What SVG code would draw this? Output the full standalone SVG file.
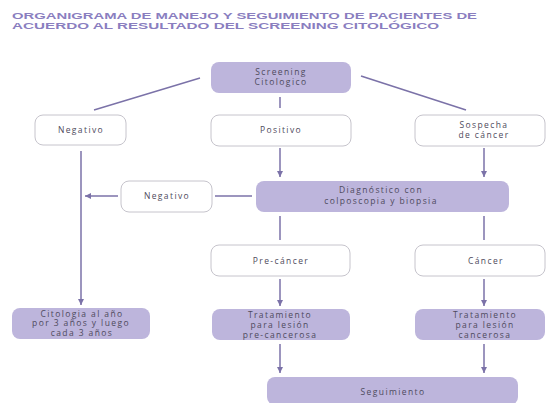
<svg xmlns="http://www.w3.org/2000/svg" width="546" height="403" viewBox="0 0 546 403">
<defs>
<style>
.title{font-family:"Liberation Sans",Arial,sans-serif;font-weight:bold;font-size:8.8px;fill:#8a7ebf}
.lbl{font-family:"Open Sans","Noto Sans",sans-serif;font-size:8.5px;letter-spacing:1.4px;fill:#4e4a5c;text-anchor:middle}
.fill{fill:#bdb5dc;stroke:none}
.open{fill:#ffffff;stroke:#c6c4cc;stroke-width:1}
.conn{stroke:#7b72a8;stroke-width:1.5;fill:none}
</style>
<marker id="ah" markerUnits="userSpaceOnUse" markerWidth="7" markerHeight="7" refX="6" refY="3.5" orient="auto">
<path d="M0,0.5 L6,3.5 L0,6.5 z" fill="#7b72a8"/>
</marker>
</defs>
<rect width="546" height="403" fill="#ffffff"/>
<g id="title">
<text class="title" x="12" y="19" textLength="465" lengthAdjust="spacingAndGlyphs">ORGANIGRAMA DE MANEJO Y SEGUIMIENTO DE PACIENTES DE</text>
<text class="title" x="12" y="28.5" textLength="427" lengthAdjust="spacingAndGlyphs">ACUERDO AL RESULTADO DEL SCREENING CITOLÓGICO</text>
</g>
<g id="connectors">
<line class="conn" x1="200" y1="78" x2="94" y2="110"/>
<line class="conn" x1="361" y1="76" x2="466" y2="110"/>
<line class="conn" x1="280" y1="97" x2="280" y2="108"/>
<line class="conn" x1="280" y1="148" x2="280" y2="177" marker-end="url(#ah)"/>
<line class="conn" x1="484" y1="148" x2="484" y2="177" marker-end="url(#ah)"/>
<line class="conn" x1="252" y1="196" x2="215" y2="196"/>
<line class="conn" x1="118" y1="196" x2="85" y2="196" marker-end="url(#ah)"/>
<line class="conn" x1="81" y1="151" x2="81" y2="305" marker-end="url(#ah)"/>
<line class="conn" x1="280" y1="216" x2="280" y2="240"/>
<line class="conn" x1="484" y1="216" x2="484" y2="240"/>
<line class="conn" x1="280" y1="279" x2="280" y2="306" marker-end="url(#ah)"/>
<line class="conn" x1="484" y1="279" x2="484" y2="306" marker-end="url(#ah)"/>
<line class="conn" x1="280" y1="344" x2="280" y2="373" marker-end="url(#ah)"/>
<line class="conn" x1="484" y1="344" x2="484" y2="373" marker-end="url(#ah)"/>
</g>
<g id="screening">
<rect class="fill" x="211" y="62" width="140" height="31" rx="8"/>
<text class="lbl" x="281" y="75">Screening</text>
<text class="lbl" x="281" y="85">Citologico</text>
</g>
<g id="negativo1">
<rect class="open" x="35" y="115" width="91" height="30" rx="8"/>
<text class="lbl" x="81" y="133">Negativo</text>
</g>
<g id="positivo">
<rect class="open" x="211" y="115" width="140" height="31" rx="8"/>
<text class="lbl" x="281" y="133">Positivo</text>
</g>
<g id="sospecha">
<rect class="open" x="415" y="115" width="130" height="31" rx="8"/>
<text class="lbl" x="484" y="128">Sospecha</text>
<text class="lbl" x="484" y="138">de cáncer</text>
</g>
<g id="negativo2">
<rect class="open" x="121" y="181" width="91" height="31" rx="8"/>
<text class="lbl" x="167" y="199">Negativo</text>
</g>
<g id="diagnostico">
<rect class="fill" x="256" y="181" width="253" height="31" rx="8"/>
<text class="lbl" x="381" y="193">Diagnóstico con</text>
<text class="lbl" x="381" y="204">colposcopia y biopsia</text>
</g>
<g id="precancer">
<rect class="open" x="211" y="245" width="139" height="31" rx="8"/>
<text class="lbl" x="281" y="264">Pre-cáncer</text>
</g>
<g id="cancer">
<rect class="open" x="415" y="245" width="130" height="31" rx="8"/>
<text class="lbl" x="486" y="264">Cáncer</text>
</g>
<g id="citologia">
<rect class="fill" x="12" y="308" width="138" height="31" rx="8"/>
<text class="lbl" x="82" y="316.5">Citologia al año</text>
<text class="lbl" x="81" y="326">por 3 años y luego</text>
<text class="lbl" x="82" y="335.5">cada 3 años</text>
</g>
<g id="tratamiento-pre">
<rect class="fill" x="212" y="309" width="138" height="31" rx="8"/>
<text class="lbl" x="280" y="317.5">Tratamiento</text>
<text class="lbl" x="280" y="327.5">para lesión</text>
<text class="lbl" x="280" y="337.5">pre-cancerosa</text>
</g>
<g id="tratamiento-cancer">
<rect class="fill" x="415" y="309" width="130" height="31" rx="8"/>
<text class="lbl" x="485" y="317.5">Tratamiento</text>
<text class="lbl" x="485" y="327.5">para lesión</text>
<text class="lbl" x="485" y="337.5">cancerosa</text>
</g>
<g id="seguimiento">
<rect class="fill" x="267" y="377" width="251" height="28" rx="8"/>
<text class="lbl" x="393" y="395">Seguimiento</text>
</g>
</svg>
